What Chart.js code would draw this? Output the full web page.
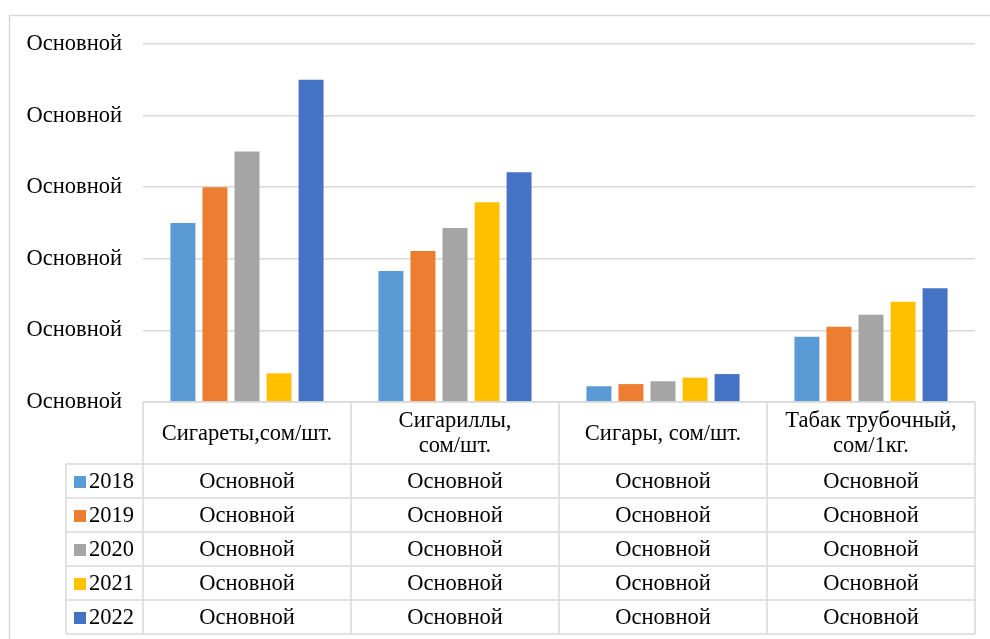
<!DOCTYPE html>
<html>
<head>
<meta charset="utf-8">
<script src="https://cdn.jsdelivr.net/npm/chart.js@4"></script>
<style>
  html, body { margin: 0; padding: 0; background: #fff; }
  #wrap { position: relative; width: 990px; height: 639px; }
  canvas { display: block; }
</style>
</head>
<body>
<div id="wrap"><canvas id="c" width="990" height="639"></canvas></div>
<script>
// ---- data ----
const categories = [
  ["Сигареты,сом/шт."],
  ["Сигариллы,", "сом/шт."],
  ["Сигары, сом/шт."],
  ["Табак трубочный,", "сом/1кг."]
];
const years = ["2018", "2019", "2020", "2021", "2022"];
const values2018 = [2.5, 1.83, 0.22, 0.91];
const values2019 = [3.0, 2.11, 0.25, 1.05];
const values2020 = [3.5, 2.43, 0.29, 1.22];
const values2021 = [0.4, 2.79, 0.34, 1.40];
const values2022 = [4.5, 3.21, 0.39, 1.59];
const tickLabels = ["Основной", "Основной", "Основной", "Основной", "Основной", "Основной"];
const cellLabel = "Основной";
const colors = ["#5B9BD5", "#ED7D31", "#A5A5A5", "#FFC000", "#4472C4"];

const seriesValues = [values2018, values2019, values2020, values2021, values2022];
const FONT = "'Liberation Serif', 'Times New Roman', serif";
const FSIZE = 22.5;
const LINE = "#d9d9d9";

const tablePlugin = {
  id: 'dataTable',
  beforeDraw(chart) {
    const ctx = chart.ctx;
    ctx.save();
    ctx.strokeStyle = LINE;
    ctx.lineWidth = 1.5;
    ctx.strokeRect(9.5, 15.5, 1000, 700);
    ctx.restore();
  },
  afterDraw(chart) {
    const ctx = chart.ctx;
    const x = chart.scales.x;
    const area = chart.chartArea;
    const top = area.bottom;
    const headerH = 62;
    const rowH = 34;
    const legendLeft = 66;
    const n = categories.length;
    const half = (x.getPixelForTick(1) - x.getPixelForTick(0)) / 2;
    const colEdges = [];
    for (let i = 0; i < n; i++) colEdges.push(x.getPixelForTick(i) - half);
    colEdges.push(x.getPixelForTick(n - 1) + half);
    const rowsTop = top + headerH;
    const bottom = rowsTop + rowH * years.length;

    ctx.save();
    ctx.strokeStyle = LINE;
    ctx.lineWidth = 1.5;
    ctx.beginPath();
    ctx.moveTo(colEdges[0], top); ctx.lineTo(colEdges[n], top);
    for (let r = 0; r <= years.length; r++) {
      const yy = rowsTop + r * rowH;
      ctx.moveTo(legendLeft, yy); ctx.lineTo(colEdges[n], yy);
    }
    for (let i = 0; i <= n; i++) {
      ctx.moveTo(colEdges[i], top); ctx.lineTo(colEdges[i], bottom);
    }
    ctx.moveTo(legendLeft, rowsTop); ctx.lineTo(legendLeft, bottom);
    ctx.stroke();

    ctx.fillStyle = "#000";
    ctx.font = FSIZE + "px " + FONT;
    ctx.textAlign = "center";
    ctx.textBaseline = "middle";
    for (let i = 0; i < n; i++) {
      const cx = x.getPixelForTick(i);
      const lines = categories[i];
      const lh = 25;
      const cy = top + headerH / 2 + 1;
      lines.forEach((t, k) => {
        ctx.fillText(t, cx, cy + (k - (lines.length - 1) / 2) * lh);
      });
    }
    for (let r = 0; r < years.length; r++) {
      const cy = rowsTop + r * rowH + rowH / 2 + 1;
      for (let i = 0; i < n; i++) {
        ctx.fillText(cellLabel, x.getPixelForTick(i), cy);
      }
      ctx.fillStyle = chart.data.datasets[r].backgroundColor;
      ctx.fillRect(74, cy - 6, 12, 12);
      ctx.fillStyle = "#000";
      ctx.textAlign = "left";
      ctx.fillText(years[r], 89, cy);
      ctx.textAlign = "center";
    }
    ctx.restore();
  }
};

new Chart(document.getElementById('c'), {
  type: 'bar',
  data: {
    labels: categories,
    datasets: years.map((y, i) => ({
      label: y,
      data: seriesValues[i],
      backgroundColor: colors[i],
      borderWidth: 0,
      categoryPercentage: 0.77,
      barPercentage: 0.78
    }))
  },
  options: {
    responsive: false,
    animation: false,
    devicePixelRatio: 1,
    layout: { padding: { top: 44, bottom: 237, right: 15, left: 0 } },
    plugins: { legend: { display: false }, tooltip: { enabled: false } },
    scales: {
      x: {
        afterFit(scale) { scale.height = 0; },
        grid: { display: false },
        border: { display: false },
        ticks: { display: false }
      },
      y: {
        min: 0, max: 5,
        afterFit(scale) { scale.width = 143; },
        grid: { color: LINE, lineWidth: 1.5, drawTicks: false },
        border: { display: false },
        ticks: {
          stepSize: 1,
          padding: 21,
          color: "#000",
          font: { family: FONT, size: FSIZE },
          callback: (v, i) => tickLabels[i]
        }
      }
    }
  },
  plugins: [tablePlugin]
});
</script>
</body>
</html>
